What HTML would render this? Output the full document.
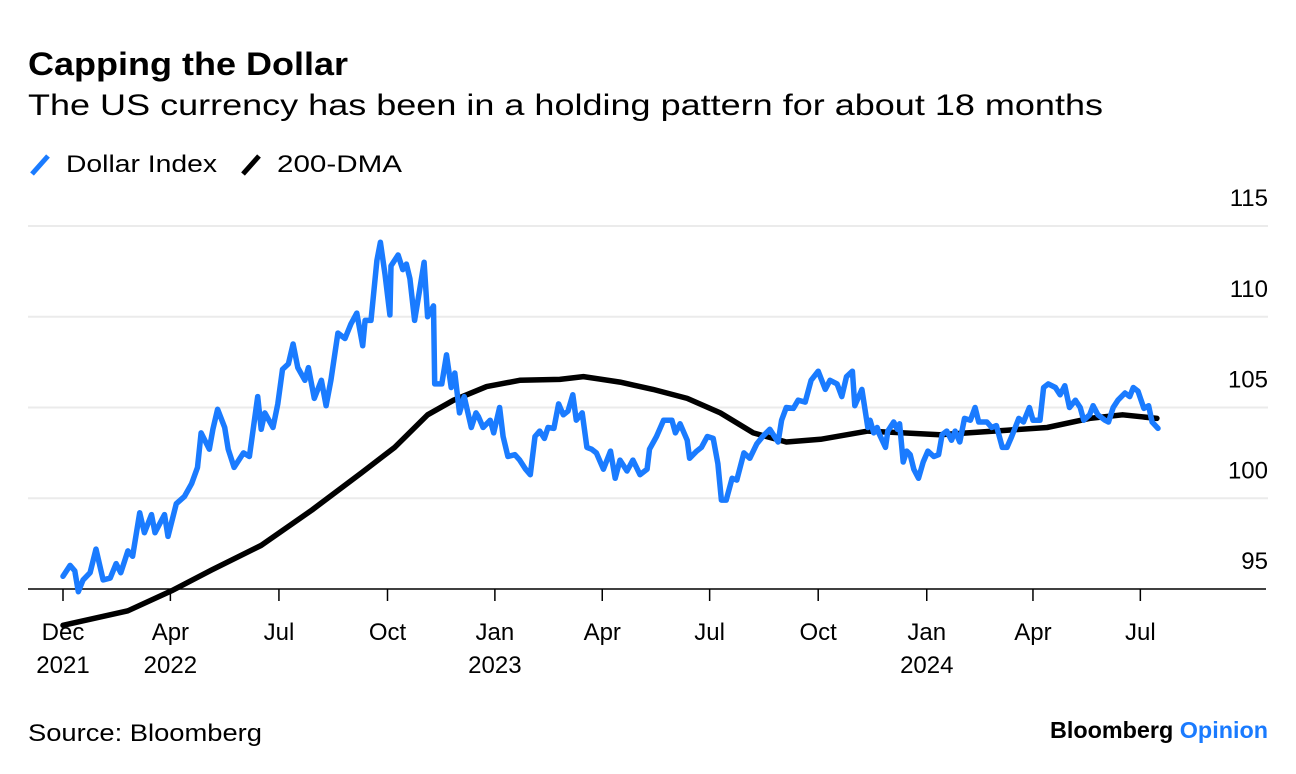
<!DOCTYPE html>
<html><head><meta charset="utf-8"><style>
html,body{margin:0;padding:0;background:#fff;}
svg{display:block;font-family:"Liberation Sans",Arial,sans-serif;}
</style></head><body>
<svg id="chart" width="1296" height="774" viewBox="0 0 1296 774">
<text x="28" y="75" font-size="32" font-weight="bold" fill="#000" textLength="320" lengthAdjust="spacingAndGlyphs">Capping the Dollar</text>
<text x="28" y="115" font-size="30" fill="#000" textLength="1075" lengthAdjust="spacingAndGlyphs">The US currency has been in a holding pattern for about 18 months</text>
<g>
<g>
<line x1="32" y1="174" x2="48" y2="156" stroke="#1a7bff" stroke-width="5" stroke-linecap="butt"/>
<text x="66" y="172" font-size="24" fill="#000" textLength="151" lengthAdjust="spacingAndGlyphs">Dollar Index</text></g>
<g>
<line x1="243" y1="174" x2="259" y2="156" stroke="#000" stroke-width="5"/>
<text x="277" y="172" font-size="24" fill="#000" textLength="125" lengthAdjust="spacingAndGlyphs">200-DMA</text></g>
</g>
<g id="grid"></g>
<g id="yLabels"></g>
<g id="xAxis"></g>
<g id="series"></g>
<text x="28" y="741" font-size="24" fill="#000" textLength="234" lengthAdjust="spacingAndGlyphs">Source: Bloomberg</text>
<text x="1268" y="738" font-size="23" text-anchor="end" font-weight="bold" textLength="218" lengthAdjust="spacingAndGlyphs"><tspan fill="#000">Bloomberg </tspan><tspan fill="#1a7bff">Opinion</tspan></text>
</svg>
<script>
const yTicks = [95, 100, 105, 110, 115];
const xTickDays = [0, 91, 183, 275, 366, 457, 548, 640, 732, 822, 913];
const xTickMonths = ["Dec","Apr","Jul","Oct","Jan","Apr","Jul","Oct","Jan","Apr","Jul"];
const xTickYears = ["2021","2022","","","2023","","","","2024","",""];
const dxyDays = [0,6,10,13,17,23,28,34,40,45,49,55,59,65,69,75,78,86,89,96,103,109,114,117,124,127,131,137,140,145,153,158,165,168,171,178,182,186,191,195,199,205,208,213,219,223,227,233,239,244,249,254,256,261,266,269,273,277,278,284,288,291,294,298,302,306,309,314,315,321,325,329,332,336,340,346,350,352,356,362,365,370,373,377,383,387,392,396,400,404,408,411,416,420,424,428,432,435,440,444,448,452,458,464,468,472,478,483,489,495,497,503,509,516,519,523,529,531,537,541,546,551,555,558,562,567,571,577,582,588,593,599,603,606,609,613,619,623,629,634,640,646,650,656,660,664,669,671,677,682,684,687,690,692,697,699,704,707,709,712,715,718,721,725,729,733,738,742,745,749,753,756,760,764,769,773,776,783,787,791,796,800,804,810,814,819,822,828,831,835,841,845,849,853,858,862,865,870,873,877,883,886,890,894,900,904,907,911,916,920,923,928];
const dxyValues = [95.7,96.3,96.0,94.85,95.5,95.9,97.2,95.5,95.6,96.4,95.9,97.1,96.8,99.2,98.1,99.1,98.1,99.1,97.9,99.7,100.1,100.8,101.7,103.6,102.7,103.8,104.9,103.9,102.7,101.7,102.5,102.3,105.6,103.8,104.7,103.9,105.2,107.1,107.4,108.5,107.2,106.5,107.2,105.5,106.5,105.1,106.5,109.1,108.8,109.6,110.2,108.4,109.8,109.8,113.1,114.1,112.3,110.1,112.8,113.4,112.6,112.9,112.1,109.8,111.4,113.0,110.0,110.6,106.3,106.3,107.9,106.1,106.9,104.7,105.6,103.9,104.7,104.5,103.9,104.3,103.6,105.0,103.4,102.3,102.4,102.1,101.6,101.3,103.4,103.7,103.3,103.9,103.85,105.2,104.6,104.8,105.7,104.3,104.7,102.8,102.7,102.5,101.6,102.6,101.1,102.1,101.5,102.1,101.3,101.6,102.7,103.4,104.3,104.3,103.6,104.1,103.2,102.2,102.6,102.8,103.4,103.3,101.9,99.9,99.9,101.1,101.0,102.5,102.2,103.0,103.4,103.8,103.4,103.1,104.3,105.0,104.95,105.4,105.3,106.5,107.0,106.0,106.5,106.3,105.6,106.7,107.0,105.1,106.0,103.9,104.3,103.6,103.9,103.5,102.8,103.7,104.2,103.8,104.1,102.0,102.6,102.4,101.6,101.1,102.0,102.6,102.3,102.4,103.5,103.7,103.2,103.7,103.1,104.4,104.3,105.0,104.2,104.2,103.9,104.0,102.8,102.8,103.4,104.4,104.2,105.0,104.3,104.3,106.1,106.3,106.1,105.7,106.2,105.0,105.4,105.0,104.3,104.6,105.1,104.6,104.3,104.2,105.0,105.4,105.8,105.6,106.1,105.9,104.95,105.1,104.2,103.85];
const dmaDays = [0,55,92,126,168,211,253,281,309,331,359,387,421,441,472,500,529,557,585,613,642,682,743,800,834,870,898,927];
const dmaValues = [93.0,93.8,94.9,96.05,97.4,99.35,101.4,102.8,104.6,105.4,106.15,106.5,106.55,106.7,106.4,106.0,105.5,104.7,103.6,103.1,103.25,103.7,103.5,103.75,103.9,104.4,104.6,104.4];

const NS = "http://www.w3.org/2000/svg";
const xScale = d => 63 + d * 1.18;
const yScale = v => 589 - (v - 95) * 18.15;
function mk(tag, attrs, parent) {
  const e = document.createElementNS(NS, tag);
  for (const k in attrs) e.setAttribute(k, attrs[k]);
  parent.appendChild(e);
  return e;
}
const grid = document.getElementById('grid');
const yl = document.getElementById('yLabels');
yTicks.forEach(v => {
  if (v !== 95) {
    const g = mk('line', {x1: 28, x2: 1268, y1: yScale(v), y2: yScale(v), stroke: '#ebebeb', 'stroke-width': 2}, grid);
    
    
  }
  const t = mk('text', {x: 1268, y: yScale(v) - 20, 'font-size': 24, 'text-anchor': 'end', fill: '#000'}, yl);
  t.textContent = v;
  
  
});
const xa = document.getElementById('xAxis');
const axis = mk('line', {x1: 28, x2: 1266, y1: 589, y2: 589, stroke: '#000', 'stroke-width': 1.5}, xa);


xTickDays.forEach((d, i) => {
  const x = xScale(d);
  const tk = mk('line', {x1: x, x2: x, y1: 589, y2: 601, stroke: '#000', 'stroke-width': 1.5}, xa);
  
  
  const t = mk('text', {x: x, y: 640, 'font-size': 24, 'text-anchor': 'middle', fill: '#000'}, xa);
  t.textContent = xTickMonths[i];
  
  
  if (xTickYears[i]) {
    const t2 = mk('text', {x: x, y: 673, 'font-size': 24, 'text-anchor': 'middle', fill: '#000'}, xa);
    t2.textContent = xTickYears[i];
    
    
  }
});
const ser = document.getElementById('series');
const pts = (ds, vs) => ds.map((d, i) => xScale(d).toFixed(1) + ',' + yScale(vs[i]).toFixed(1)).join(' ');
const dma = mk('polyline', {points: pts(dmaDays, dmaValues), fill: 'none', stroke: '#000', 'stroke-width': 5.5, 'stroke-linejoin': 'round', 'stroke-linecap': 'round'}, ser);


const dxy = mk('polyline', {points: pts(dxyDays, dxyValues), fill: 'none', stroke: '#1a7bff', 'stroke-width': 5.5, 'stroke-linejoin': 'round', 'stroke-linecap': 'round'}, ser);


</script>
</body></html>
